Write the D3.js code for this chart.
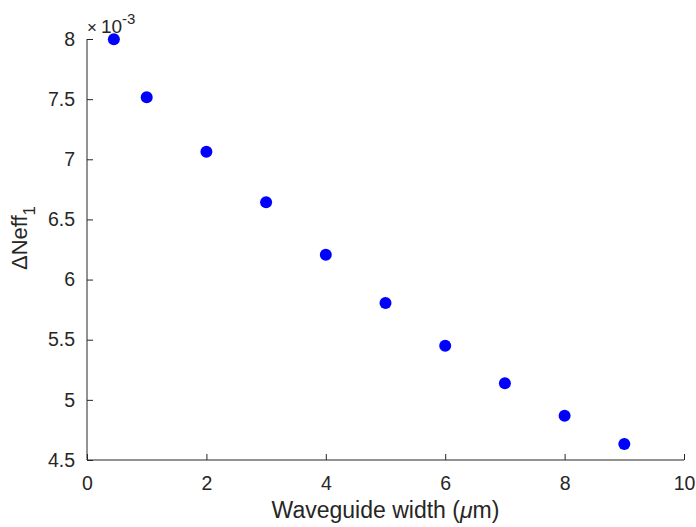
<!DOCTYPE html>
<html>
<head>
<meta charset="utf-8">
<script src="https://cdn.jsdelivr.net/npm/d3@7"></script>
<style>
  html, body { margin: 0; padding: 0; background: #fff; }
  svg text { font-family: "Liberation Sans", Arial, sans-serif; fill: #262626; }
</style>
</head>
<body>
<svg id="chart" width="696" height="527"></svg>
<script>
// Waveguide width (µm)
const widths = [0.45, 1, 2, 3, 4, 5, 6, 7, 8, 9];
// ΔNeff₁ in units of 1e-3
const deltaNeff = [7.997, 7.515, 7.063, 6.642, 6.207, 5.805, 5.450, 5.138, 4.868, 4.633];
const xTicks = [0, 2, 4, 6, 8, 10];
const yTicks = [4.5, 5, 5.5, 6, 6.5, 7, 7.5, 8];

const svg = d3.select("#chart");
const margin = { left: 87, right: 12, top: 39, bottom: 67 };
const W = 696, H = 527;

const x = d3.scaleLinear().domain([0, 10]).range([margin.left, W - margin.right]);
const y = d3.scaleLinear().domain([4.5, 8]).range([H - margin.bottom, margin.top]);

const axisColor = "#262626";

// x axis (ticks pointing inward)
const gx = svg.append("g")
  .attr("transform", `translate(0,${y(4.5)})`)
  .call(d3.axisBottom(x).tickValues(xTicks).tickSize(-6).tickPadding(16).tickFormat(d3.format("d")));
gx.select(".domain").attr("stroke", axisColor).attr("d", `M${x(0)},0H${x(10)}`);
gx.selectAll(".tick line").attr("stroke", axisColor);
gx.selectAll(".tick text").style("font-size", "19.5px").style("fill", axisColor);

// y axis (ticks pointing inward)
const gy = svg.append("g")
  .attr("transform", `translate(${x(0)},0)`)
  .call(d3.axisLeft(y).tickValues(yTicks).tickSize(-6).tickPadding(12).tickFormat(d => d3.format("")(d)));
gy.select(".domain").attr("stroke", axisColor).attr("d", `M0,${y(4.5)}V${y(8)}`);
gy.selectAll(".tick line").attr("stroke", axisColor);
gy.selectAll(".tick text").style("font-size", "19.5px").style("fill", axisColor);

// exponent label above the y axis
const expo = svg.append("text")
  .attr("x", 87)
  .attr("y", 33)
  .style("font-size", "19px");
expo.append("tspan").text("\u00d7").style("font-size", "17px");
expo.append("tspan").text("10").attr("dx", 4);
expo.append("tspan").text("-3").style("font-size", "15px").attr("dy", -9);

// axis titles
svg.append("text")
  .attr("x", (x(0) + x(10)) / 2)
  .attr("y", 518)
  .attr("text-anchor", "middle")
  .style("font-size", "23px")
  .html("Waveguide width (<tspan font-style='italic'>\u03bc</tspan>m)");

const ylab = svg.append("text")
  .attr("transform", `translate(27,238) rotate(-90)`)
  .attr("text-anchor", "middle")
  .style("font-size", "22px");
ylab.append("tspan").text("\u0394Neff");
ylab.append("tspan").text("1").style("font-size", "17px").attr("dy", 8);

// data points
svg.append("g")
  .selectAll("circle")
  .data(widths.map((w, i) => ({ w, v: deltaNeff[i] })))
  .join("circle")
  .attr("cx", d => x(d.w))
  .attr("cy", d => y(d.v))
  .attr("r", 6)
  .attr("fill", "#0000ff");
</script>
</body>
</html>
